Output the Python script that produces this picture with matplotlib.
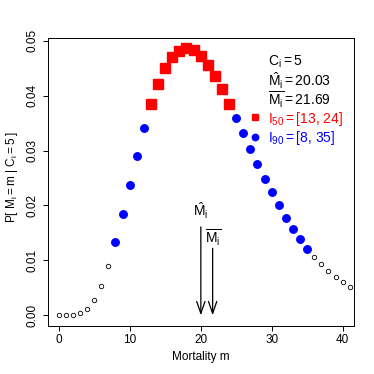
import numpy as np
import matplotlib
matplotlib.use('Agg')
import matplotlib.pyplot as plt

plt.rcParams['font.family'] = ['Liberation Sans', 'DejaVu Sans']
plt.rcParams['mathtext.fontset'] = 'custom'
plt.rcParams['mathtext.rm'] = 'Liberation Sans'
plt.rcParams['mathtext.it'] = 'Liberation Sans'

# posterior of mortality given C_i = 5
mortality = list(range(0, 42))
prob = [0.0000, 0.00003, 0.0001, 0.0004, 0.0012, 0.0028, 0.0054, 0.0090,
        0.0134, 0.0185, 0.0237, 0.0291, 0.0341, 0.0384, 0.0421, 0.0451,
        0.0470, 0.0482, 0.0486, 0.0483, 0.0472, 0.0455, 0.0435, 0.0412,
        0.0385, 0.0359, 0.0332, 0.0303, 0.0276, 0.0249, 0.0224, 0.0200,
        0.0178, 0.0157, 0.0139, 0.0121, 0.0107, 0.0093, 0.0081, 0.0070,
        0.0060, 0.0052]
c_obs = 5
m_hat = 20.03
m_bar = 21.69
i50 = [13, 24]
i90 = [8, 35]

m = np.array(mortality)
p = np.array(prob)
in50 = (m >= i50[0]) & (m <= i50[1])
in90 = (m >= i90[0]) & (m <= i90[1]) & ~in50
out = ~(in50 | in90)

fig = plt.figure(figsize=(3.74, 3.74), dpi=100)
ax = fig.add_axes([0.1283, 0.1291, 0.8182, 0.7693])

ax.plot(m[out], p[out], 'o', ms=3.2, mfc='white', mec='black', mew=0.6, ls='none')
ax.plot(m[in90], p[in90], 'o', ms=5.4, color='blue', ls='none')
ax.plot(m[in50], p[in50], 's', ms=7.8, color='red', ls='none')

ax.set_xlim(-1.5, 41.6)
ax.set_ylim(-0.0019, 0.0505)
ax.set_xticks([0, 10, 20, 30, 40])
ax.set_yticks([0, 0.01, 0.02, 0.03, 0.04, 0.05])
ax.set_yticklabels(['%.2f' % v for v in ax.get_yticks()], rotation=90, va='center')
ax.tick_params(direction='out', length=3.6, width=0.7, labelsize=8.5, pad=2.5)
ax.tick_params(axis='y', pad=3.5)
for s in ax.spines.values():
    s.set_linewidth(0.7)

ax.set_xlabel('Mortality m', fontsize=8.5)
ax.set_ylabel(r'$\mathrm{P[\ M_i = m\ |\ C_i = 5\ ]}$', fontsize=8.5)
ax.xaxis.set_label_coords(0.5, -0.088)
ax.yaxis.set_label_coords(-0.09, 0.517)

# arrows for point estimates
head = '->, head_length=0.86, head_width=0.3'
ax.annotate('', xy=(m_hat, 0), xytext=(m_hat, 0.0161),
            arrowprops=dict(arrowstyle=head, color='black', lw=0.9, shrinkA=0, shrinkB=0))
ax.annotate('', xy=(m_bar, 0), xytext=(m_bar, 0.0122),
            arrowprops=dict(arrowstyle=head, color='black', lw=0.9, shrinkA=0, shrinkB=0))
ax.text(m_hat, 0.0180, r'$\hat{M}_i$', ha='center', va='baseline', fontsize=10)
ax.text(m_bar, 0.0131, r'$\overline{M_i}$', ha='center', va='baseline', fontsize=10)

# summary text
tx = 29.5
ax.text(tx, 0.0455, r'$\mathrm{C_i = %d}$' % c_obs, ha='left', va='baseline', fontsize=10)
ax.text(tx, 0.0417, r'$\hat{M}_i\mathrm{ = %.2f}$' % m_hat, ha='left', va='baseline', fontsize=10)
ax.text(tx, 0.0383, r'$\overline{M_i}\mathrm{ = %.2f}$' % m_bar, ha='left', va='baseline', fontsize=10)
ax.text(tx, 0.0351, r'$\mathrm{I_{50} = [%d{,}\ %d]}$' % tuple(i50), ha='left', va='baseline',
        fontsize=10, color='red')
ax.text(tx, 0.0316, r'$\mathrm{I_{90} = [%d{,}\ %d]}$' % tuple(i90), ha='left', va='baseline',
        fontsize=10, color='blue')
ax.plot([27.65], [0.0361], 's', ms=4.2, color='red')
ax.plot([27.65], [0.0325], 'o', ms=4.6, color='blue')

fig.savefig('out.png', dpi=100)
